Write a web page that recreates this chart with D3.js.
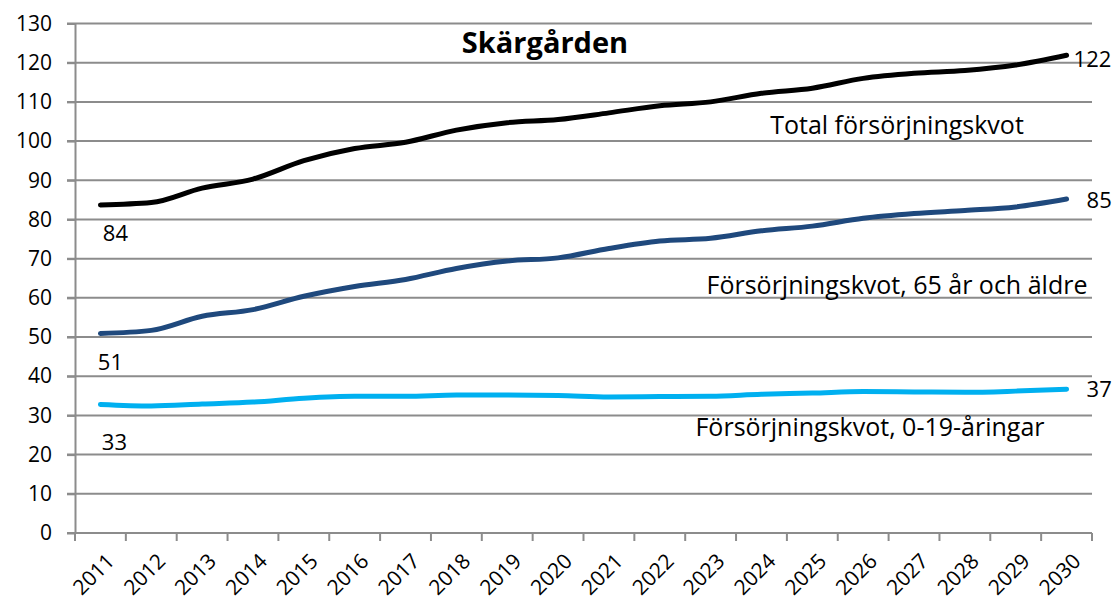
<!DOCTYPE html>
<html>
<head>
<meta charset="utf-8">
<script src="https://cdn.jsdelivr.net/npm/d3@7"></script>
<style>
    body { margin: 0; background: #fff; }
    text { font-family: "Open Sans", sans-serif; fill: #000; }
    .grid line { stroke: #8c8c8c; stroke-width: 2; }
    .axis path, .axis line { stroke: #8c8c8c; stroke-width: 2; fill: none; }
    .series { fill: none; stroke-width: 5; stroke-linejoin: round; stroke-linecap: round; }
</style>
</head>
<body>
<svg id="chart" width="1116" height="605"></svg>
<script>
var years = ["2011", "2012", "2013", "2014", "2015", "2016", "2017", "2018", "2019", "2020",
             "2021", "2022", "2023", "2024", "2025", "2026", "2027", "2028", "2029", "2030"];

var total = [83.7, 84.3, 88.0, 90.3, 95.0, 98.1, 99.7, 102.8, 104.7, 105.5,
             107.2, 109.0, 110.0, 112.2, 113.5, 116.0, 117.3, 118.0, 119.4, 121.9];
var elderly = [50.9, 51.7, 55.3, 57.0, 60.4, 62.9, 64.7, 67.5, 69.4, 70.2,
               72.6, 74.5, 75.2, 77.1, 78.3, 80.3, 81.5, 82.3, 83.2, 85.2];
var young = [32.8, 32.4, 32.9, 33.4, 34.4, 34.9, 34.9, 35.2, 35.2, 35.1,
             34.7, 34.8, 34.9, 35.4, 35.7, 36.1, 36.0, 35.9, 36.2, 36.7];

var seriesNames = ["Total försörjningskvot", "Försörjningskvot, 65 år och äldre", "Försörjningskvot, 0-19-åringar"];
var yTicks = [0, 10, 20, 30, 40, 50, 60, 70, 80, 90, 100, 110, 120, 130];
var title = "Skärgården";

var svg = d3.select("#chart");
var plotLeft = 75, plotRight = 1092, plotTop = 23.5, plotBottom = 533;

var x = d3.scaleBand().domain(years).range([plotLeft, plotRight]);
var y = d3.scaleLinear().domain([0, 130]).range([plotBottom, plotTop]);

// horizontal gridlines
svg.append("g")
    .attr("class", "grid")
    .selectAll("line")
    .data(yTicks)
    .enter().append("line")
    .attr("x1", plotLeft - 8)
    .attr("x2", plotRight)
    .attr("y1", function(d) { return y(d); })
    .attr("y2", function(d) { return y(d); });

// y axis
var yAxis = svg.append("g")
    .attr("class", "axis")
    .attr("transform", "translate(" + plotLeft + ",0)")
    .call(d3.axisLeft(y).tickValues(yTicks).tickSize(8).tickSizeOuter(0).tickPadding(15));
yAxis.selectAll("text")
    .style("font-size", "21px")
    .style("font-family", "'Open Sans', sans-serif")
    .attr("fill", "#000");

// x axis, ticks between categories
var xAxis = svg.append("g")
    .attr("class", "axis")
    .attr("transform", "translate(0," + plotBottom + ")");
xAxis.append("line")
    .attr("x1", plotLeft).attr("x2", plotRight);
xAxis.selectAll(".tick")
    .data(years.concat(["end"]))
    .enter().append("line")
    .attr("x1", function(d, i) { return plotLeft + i * x.step(); })
    .attr("x2", function(d, i) { return plotLeft + i * x.step(); })
    .attr("y1", 0).attr("y2", 8);
xAxis.selectAll(".lbl")
    .data(years)
    .enter().append("text")
    .attr("transform", function(d) {
        return "translate(" + (x(d) + x.bandwidth() / 2 + 5) + ",19) rotate(-45)"; })
    .attr("text-anchor", "end")
    .attr("dy", "0.7em")
    .style("font-size", "21px")
    .text(function(d) { return d; });

var line = d3.line()
    .x(function(d, i) { return x(years[i]) + x.bandwidth() / 2; })
    .y(function(d) { return y(d); })
    .curve(d3.curveMonotoneX);

var series = [
    {values: total, color: "#000000", name: seriesNames[0], nx: 897, ny: 134,
     first: [15, 36], last: [7, 12]},
    {values: elderly, color: "#1f497d", name: seriesNames[1], nx: 897, ny: 294,
     first: [10, 36], last: [20, 9]},
    {values: young, color: "#00b0f0", name: seriesNames[2], nx: 870, ny: 436,
     first: [14, 46], last: [20, 8]}
];

svg.selectAll(".series")
    .data(series)
    .enter().append("path")
    .attr("class", "series")
    .attr("stroke", function(d) { return d.color; })
    .attr("d", function(d) { return line(d.values); });

// value labels at first and last year
series.forEach(function(s) {
    var n = s.values.length;
    var cx0 = x(years[0]) + x.bandwidth() / 2;
    var cx1 = x(years[n - 1]) + x.bandwidth() / 2;
    svg.append("text")
        .attr("x", cx0 + s.first[0])
        .attr("y", y(s.values[0]) + s.first[1])
        .attr("text-anchor", "middle")
        .style("font-size", "22px")
        .text(Math.round(s.values[0]));
    svg.append("text")
        .attr("x", cx1 + s.last[0])
        .attr("y", y(s.values[n - 1]) + s.last[1])
        .style("font-size", "22px")
        .text(Math.round(s.values[n - 1]));
    svg.append("text")
        .attr("x", s.nx)
        .attr("y", s.ny)
        .attr("text-anchor", "middle")
        .style("font-size", "25px")
        .text(s.name);
});

svg.append("text")
    .attr("x", 545)
    .attr("y", 53)
    .attr("text-anchor", "middle")
    .style("font-size", "29px")
    .style("font-weight", "bold")
    .text(title);
</script>
</body>
</html>
